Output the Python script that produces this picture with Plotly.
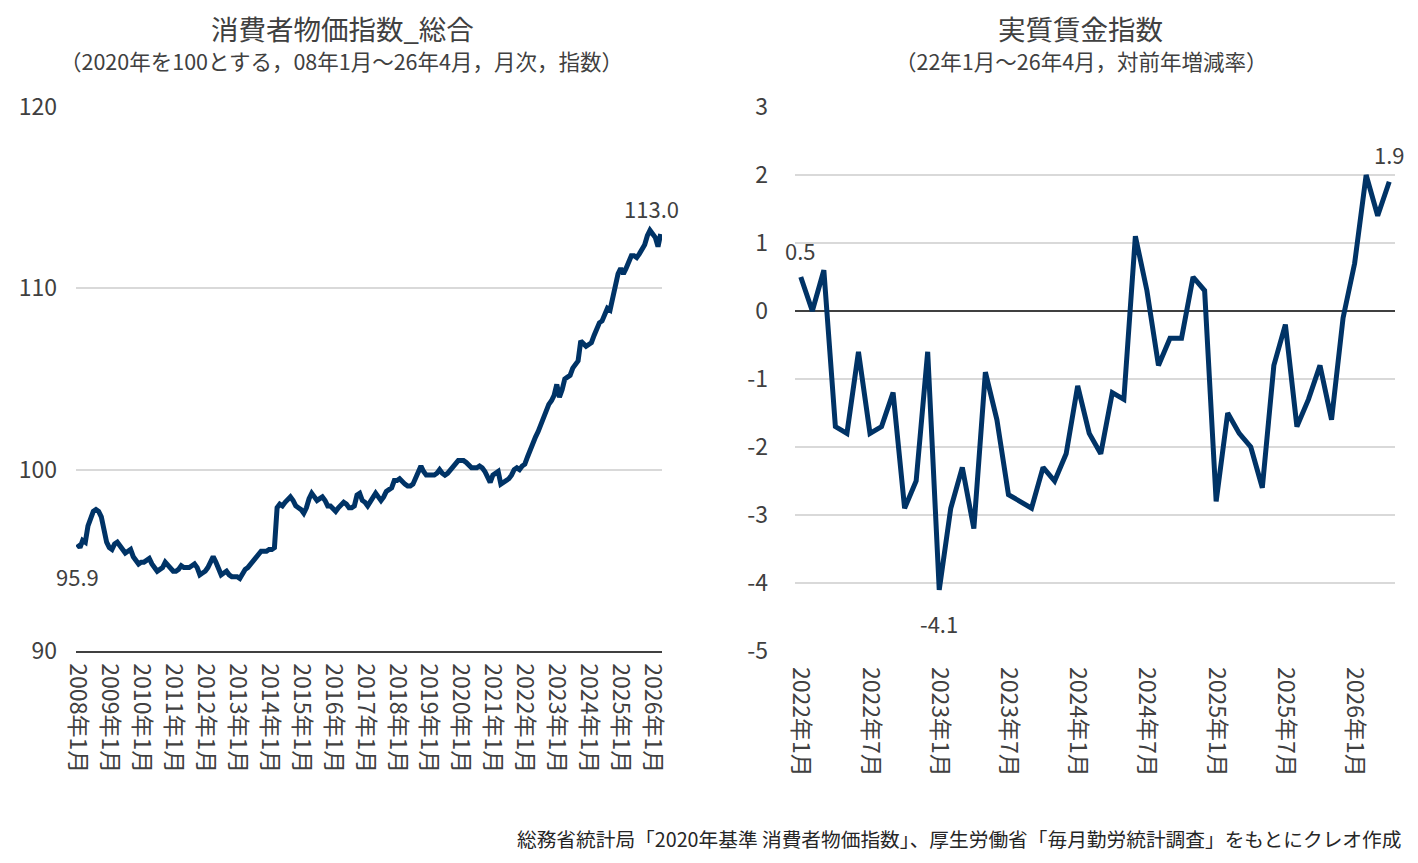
import plotly.graph_objects as go

# ---------------- data ----------------
cpi_start_year = 2008
cpi_values = [
    # 2008
    95.9, 95.7, 96.1, 96.0, 96.9, 97.4, 97.7, 97.8, 97.7, 97.4, 96.7, 96.0,
    # 2009
    95.7, 95.6, 95.9, 96.0, 95.8, 95.6, 95.4, 95.5, 95.6, 95.2, 95.0, 94.8,
    # 2010
    94.9, 94.9, 95.0, 95.1, 94.8, 94.6, 94.4, 94.5, 94.6, 94.9, 94.7, 94.5,
    # 2011
    94.4, 94.4, 94.5, 94.7, 94.6, 94.6, 94.6, 94.7, 94.8, 94.6, 94.2, 94.3,
    # 2012
    94.4, 94.6, 94.9, 95.2, 94.9, 94.6, 94.2, 94.3, 94.4, 94.2, 94.1, 94.1,
    # 2013
    94.1, 94.0, 94.3, 94.5, 94.6, 94.8, 95.0, 95.2, 95.4, 95.5, 95.5, 95.5,
    # 2014
    95.6, 95.6, 95.7, 97.9, 98.1, 98.0, 98.2, 98.4, 98.5, 98.3, 98.0, 97.9,
    # 2015
    97.8, 97.6, 97.9, 98.4, 98.7, 98.5, 98.3, 98.4, 98.5, 98.3, 98.0, 98.0,
    # 2016
    97.8, 97.7, 97.9, 98.1, 98.2, 98.1, 97.9, 97.9, 98.0, 98.6, 98.7, 98.3,
    # 2017
    98.2, 98.0, 98.2, 98.5, 98.7, 98.5, 98.3, 98.5, 98.8, 98.9, 99.0, 99.4,
    # 2018
    99.4, 99.5, 99.3, 99.2, 99.1, 99.1, 99.2, 99.5, 99.9, 100.2, 99.9, 99.7,
    # 2019
    99.7, 99.7, 99.7, 99.8, 100.0, 99.8, 99.7, 99.8, 100.0, 100.2, 100.3, 100.5,
    # 2020
    100.5, 100.5, 100.4, 100.2, 100.1, 100.1, 100.1, 100.2, 100.1, 99.9, 99.6, 99.3,
    # 2021
    99.7, 99.8, 99.9, 99.2, 99.3, 99.4, 99.5, 99.7, 100.0, 100.1, 100.0, 100.2,
    # 2022
    100.3, 100.7, 101.1, 101.5, 101.8, 102.1, 102.5, 102.8, 103.2, 103.6, 103.8, 104.1,
    # 2023
    104.7, 104.0, 104.4, 105.0, 105.1, 105.2, 105.6, 105.8, 106.0, 107.1, 106.9, 106.8,
    # 2024
    106.9, 107.0, 107.4, 107.8, 108.1, 108.2, 108.6, 108.9, 108.8, 109.5, 110.2, 110.8,
    # 2025
    111.1, 110.8, 111.1, 111.4, 111.8, 111.8, 111.7, 111.9, 112.1, 112.4, 112.9, 113.2,
    # 2026
    113.0, 112.8, 112.3, 113.0,
]

wage_start_year = 2022
wage_values = [
    # 2022
    0.5, 0.0, 0.6, -1.7, -1.8, -0.6, -1.8, -1.7, -1.2, -2.9, -2.5, -0.6,
    # 2023
    -4.1, -2.9, -2.3, -3.2, -0.9, -1.6, -2.7, -2.8, -2.9, -2.3, -2.5, -2.1,
    # 2024
    -1.1, -1.8, -2.1, -1.2, -1.3, 1.1, 0.3, -0.8, -0.4, -0.4, 0.5, 0.3,
    # 2025
    -2.8, -1.5, -1.8, -2.0, -2.6, -0.8, -0.2, -1.7, -1.3, -0.8, -1.6, -0.1,
    # 2026
    0.7, 2.0, 1.4, 1.9,
]

cpi_yticks = [90, 100, 110, 120]
wage_yticks = [-5, -4, -3, -2, -1, 0, 1, 2, 3]


def month_labels(start_year, n):
    return [f"{start_year + i // 12}年{i % 12 + 1}月" for i in range(n)]


cpi_months = month_labels(cpi_start_year, len(cpi_values))
wage_months = month_labels(wage_start_year, len(wage_values))
cpi_ticks = cpi_months[::12]
wage_ticks = wage_months[::6]

left_title = "消費者物価指数_総合"
left_sub = "（2020年を100とする，08年1月～26年4月，月次，指数）"
right_title = "実質賃金指数"
right_sub = "（22年1月～26年4月，対前年増減率）"
source = "総務省統計局「2020年基準 消費者物価指数」、厚生労働省「毎月勤労統計調査」をもとにクレオ作成"

# ---------------- style ----------------
# The page body has an 8px default margin; size the figure to fit the window.
OFF = 8
W, H = 1418 - 2 * OFF, 863 - 2 * OFF
FONT = "Noto Sans CJK JP, Noto Sans, sans-serif"
TXT = "#404040"
LINE = "#003366"
GRID = "#d9d9d9"


def px(xp):
    return (xp - OFF) / W


def py(yp):
    return 1 - (yp - OFF) / H


fig = go.Figure()
fig.add_trace(go.Scatter(x=cpi_months, y=cpi_values, mode="lines",
                         line=dict(color=LINE, width=5), xaxis="x", yaxis="y",
                         hoverinfo="x+y"))
fig.add_trace(go.Scatter(x=wage_months, y=wage_values, mode="lines",
                         line=dict(color=LINE, width=5), xaxis="x2", yaxis="y2",
                         hoverinfo="x+y"))

common_x = dict(type="category", tickmode="array", tickangle=90,
                tickfont=dict(family=FONT, size=23, color=TXT),
                showgrid=False, zeroline=False, ticks="", fixedrange=True,
                automargin=False)
common_y = dict(tickfont=dict(family=FONT, size=23, color=TXT),
                showgrid=True, gridcolor=GRID, gridwidth=1.5, ticks="",
                tickmode="array", fixedrange=True, automargin=False)

fig.update_layout(
    width=W, height=H,
    margin=dict(l=0, r=0, t=0, b=0, autoexpand=False),
    paper_bgcolor="white", plot_bgcolor="white",
    showlegend=False,
    font=dict(family=FONT, color=TXT),
    xaxis=dict(**common_x, domain=[px(76), px(662)], anchor="y",
               range=[-0.5, len(cpi_values) - 0.5],
               tickvals=cpi_ticks, ticktext=cpi_ticks,
               showline=True, linecolor="#404040", linewidth=1.5,
               ticklabelstandoff=6),
    yaxis=dict(**common_y, domain=[py(651), py(107)], anchor="x",
               range=[90, 120], tickvals=cpi_yticks,
               ticktext=[str(v) for v in cpi_yticks], zeroline=False,
               ticklabelstandoff=18),
    xaxis2=dict(**common_x, domain=[px(795), px(1395)], anchor="y2",
                range=[-0.5, len(wage_values) - 0.5],
                tickvals=wage_ticks, ticktext=wage_ticks,
                showline=False, ticklabelstandoff=15),
    yaxis2=dict(**common_y, domain=[py(651), py(107)], anchor="x2",
                range=[-5, 3], tickvals=wage_yticks,
                ticktext=[str(v) for v in wage_yticks],
                zeroline=True, zerolinecolor="#404040", zerolinewidth=1.5,
                ticklabelstandoff=26),
)

ann = []
# titles
title_font = dict(family=FONT, size=27.5, color=TXT)
sub_font = dict(family=FONT, size=21.5, color=TXT)
for text, xc, yc, f in [(left_title, 342, 28.5, title_font),
                        (left_sub, 341, 61, sub_font),
                        (right_title, 1080, 28.5, title_font),
                        (right_sub, 1081, 61, sub_font)]:
    ann.append(dict(text=text, x=px(xc), y=py(yc), xref="paper", yref="paper",
                    xanchor="center", yanchor="middle", showarrow=False, font=f))
ann.append(dict(text=source, x=px(1403), y=py(838), xref="paper", yref="paper",
                xanchor="right", yanchor="middle", showarrow=False,
                font=dict(family=FONT, size=19.7, color="#262626")))

# data labels
lab_font = dict(family=FONT, size=22, color=TXT)
ann.append(dict(text=f"{cpi_values[0]:.1f}", x=cpi_months[0], y=cpi_values[0],
                xref="x", yref="y", showarrow=False, yshift=-32, font=lab_font))
ann.append(dict(text=f"{cpi_values[-1]:.1f}", x=cpi_months[-1], y=cpi_values[-1],
                xref="x", yref="y", showarrow=False, yshift=26, xshift=-9, font=lab_font))
ann.append(dict(text=f"{wage_values[0]:.1f}", x=wage_months[0], y=wage_values[0],
                xref="x2", yref="y2", showarrow=False, yshift=27, font=lab_font))
imin = wage_values.index(min(wage_values))
ann.append(dict(text=f"{wage_values[imin]:.1f}", x=wage_months[imin], y=wage_values[imin],
                xref="x2", yref="y2", showarrow=False, yshift=-33, font=lab_font))
ann.append(dict(text=f"{wage_values[-1]:.1f}", x=wage_months[-1], y=wage_values[-1],
                xref="x2", yref="y2", showarrow=False, yshift=28, font=lab_font))

fig.update_layout(annotations=ann)
fig.write_html("out.html")
